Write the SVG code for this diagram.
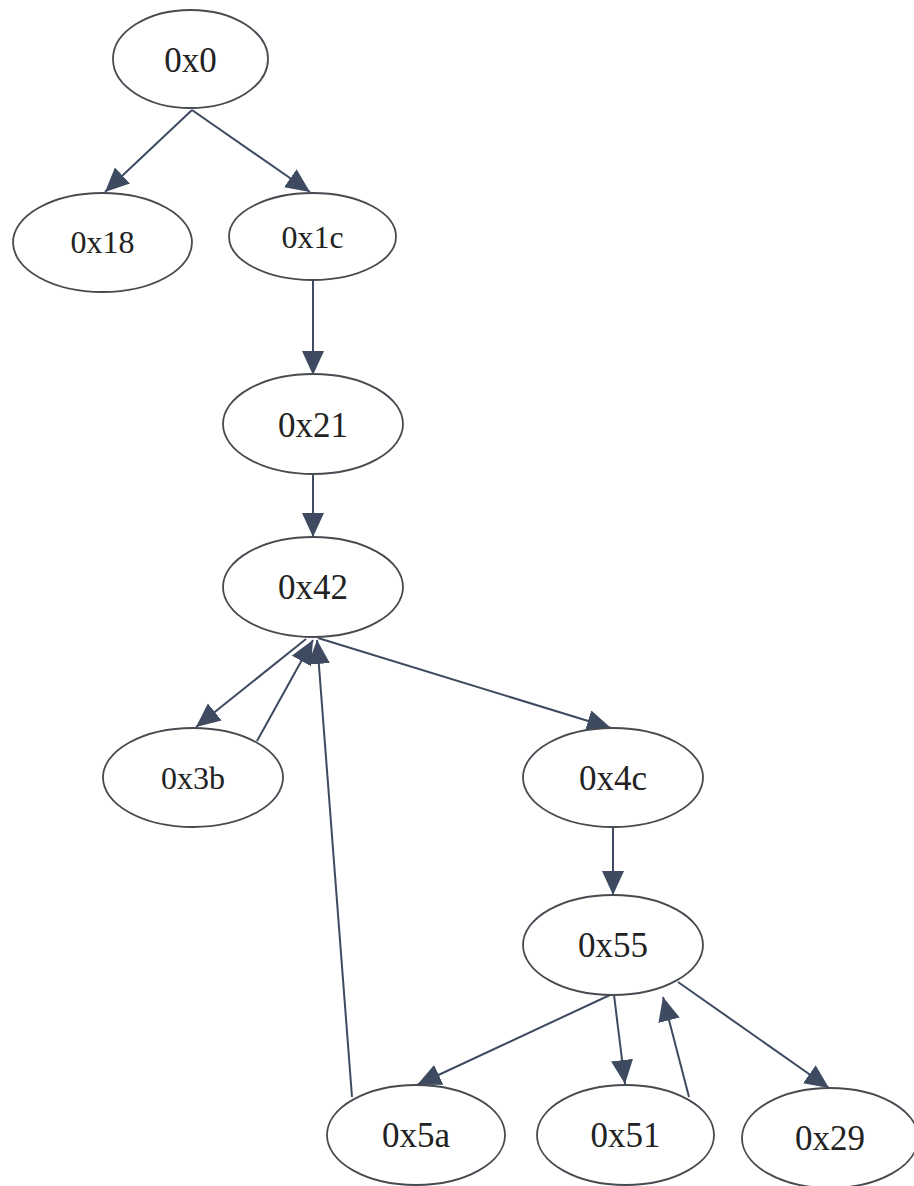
<svg xmlns="http://www.w3.org/2000/svg" width="914" height="1186" viewBox="0 0 914 1186">
  <style>
    .node ellipse { fill: #ffffff; stroke: #474a50; stroke-width: 1.8; }
    .node text { font-family: "Liberation Serif", "Times New Roman", serif; font-size: 35px; fill: #222222; text-anchor: middle; }
    .node text.sm { font-size: 32px; }
    .edges line { stroke: #3d4a5f; stroke-width: 2; marker-end: url(#arrow); }
  </style>
  <defs>
    <marker id="arrow" markerUnits="userSpaceOnUse" markerWidth="26" markerHeight="24" refX="24" refY="11" orient="auto">
      <path d="M0,0 L24,11 L0,22 z" fill="#3d4a5f"/>
    </marker>
  </defs>
  <rect width="914" height="1186" fill="#ffffff"/>

  <g class="edges" id="edges">
    <line x1="192" y1="110" x2="105" y2="192"/>
    <line x1="192" y1="110" x2="310" y2="192"/>
    <line x1="313" y1="280" x2="313" y2="375"/>
    <line x1="313" y1="474" x2="313" y2="537"/>
    <line x1="306" y1="639" x2="196" y2="727"/>
    <line x1="257" y1="741" x2="313" y2="640"/>
    <line x1="352" y1="1097" x2="317" y2="640"/>
    <line x1="318" y1="638" x2="611" y2="728"/>
    <line x1="613" y1="827" x2="613" y2="895"/>
    <line x1="610" y1="995" x2="417" y2="1085"/>
    <line x1="614" y1="995" x2="625" y2="1084"/>
    <line x1="689" y1="1097" x2="663" y2="997"/>
    <line x1="678" y1="982" x2="829" y2="1088"/>
  </g>

  <g class="node" id="n0x0">
    <ellipse cx="190.5" cy="59" rx="77.5" ry="49"/>
    <text x="190.5" y="72">0x0</text>
  </g>
  <g class="node" id="n0x18">
    <ellipse cx="102.5" cy="242.5" rx="89.5" ry="49.5"/>
    <text class="sm" x="102.5" y="253">0x18</text>
  </g>
  <g class="node" id="n0x1c">
    <ellipse cx="312.5" cy="236.5" rx="83.5" ry="43.5"/>
    <text class="sm" x="312.5" y="248">0x1c</text>
  </g>
  <g class="node" id="n0x21">
    <ellipse cx="313" cy="424" rx="90" ry="50"/>
    <text x="313" y="437">0x21</text>
  </g>
  <g class="node" id="n0x42">
    <ellipse cx="313" cy="587" rx="90" ry="50"/>
    <text x="313" y="599">0x42</text>
  </g>
  <g class="node" id="n0x3b">
    <ellipse cx="193" cy="777.5" rx="90" ry="49.5"/>
    <text class="sm" x="193" y="789">0x3b</text>
  </g>
  <g class="node" id="n0x4c">
    <ellipse cx="613" cy="777.5" rx="90" ry="49.5"/>
    <text x="613" y="790">0x4c</text>
  </g>
  <g class="node" id="n0x55">
    <ellipse cx="613" cy="945" rx="90" ry="50"/>
    <text x="613" y="957">0x55</text>
  </g>
  <g class="node" id="n0x5a">
    <ellipse cx="416" cy="1135" rx="89" ry="50"/>
    <text x="416" y="1147">0x5a</text>
  </g>
  <g class="node" id="n0x51">
    <ellipse cx="625.5" cy="1135" rx="88.5" ry="50"/>
    <text x="625.5" y="1147">0x51</text>
  </g>
  <g class="node" id="n0x29">
    <ellipse cx="830" cy="1138" rx="88" ry="50"/>
    <text x="830" y="1150">0x29</text>
  </g>
</svg>
